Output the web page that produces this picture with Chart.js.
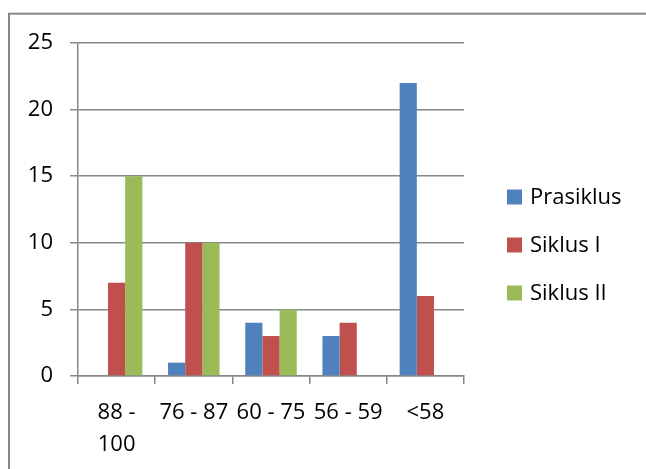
<!DOCTYPE html>
<html>
<head>
<meta charset="utf-8">
<script src="https://cdn.jsdelivr.net/npm/chart.js@4"></script>
<style>
  html, body { margin: 0; padding: 0; background: #fff; }
  #wrap { width: 646px; height: 469px; position: relative; }
</style>
</head>
<body>
<div id="wrap"><canvas id="c" width="646" height="469"></canvas></div>
<script>
// Score ranges and number of students per cycle
const categories = [["88 -", "100"], "76 - 87", "60 - 75", "56 - 59", "<58"];
const seriesNames = ["Prasiklus", "Siklus I", "Siklus II"];
const prasiklus = [0, 1, 4, 3, 22];
const siklus1 = [7, 10, 3, 4, 6];
const siklus2 = [15, 10, 5, 0, 0];
const yTicks = [0, 5, 10, 15, 20, 25];
const seriesColors = ["#4F81BD", "#C0504D", "#9BBB59"];

const FONT = '"Open Sans", "Liberation Sans", sans-serif';
const LINE = "#878787";

// Thin grey frame around the whole chart
const framePlugin = {
  id: "frame",
  beforeDraw(chart) {
    const ctx = chart.ctx;
    ctx.save();
    ctx.strokeStyle = LINE;
    ctx.lineWidth = 2;
    ctx.strokeRect(9, 13.7, 700, 520);
    ctx.restore();
  }
};

// Legend on the right, one entry per dataset
const sideLegend = {
  id: "sideLegend",
  afterDraw(chart) {
    const ctx = chart.ctx;
    const area = chart.chartArea;
    const x = area.right + 43;
    const gap = 48;
    const mid = (area.top + area.bottom) / 2 + 35.5;
    ctx.save();
    ctx.font = "22px " + FONT;
    ctx.textBaseline = "middle";
    ctx.textAlign = "left";
    chart.data.datasets.forEach((ds, i) => {
      const cy = mid + (i - 1) * gap;
      ctx.fillStyle = ds.backgroundColor;
      ctx.fillRect(x, cy - 7.5, 15, 15);
      ctx.fillStyle = "#000";
      ctx.fillText(ds.label, x + 23, cy + 1);
    });
    ctx.restore();
  }
};

const seriesData = [prasiklus, siklus1, siklus2];

new Chart(document.getElementById("c"), {
  type: "bar",
  data: {
    labels: categories,
    datasets: seriesNames.map((name, i) => ({
      label: name,
      data: seriesData[i],
      backgroundColor: seriesColors[i],
      borderWidth: 0,
      categoryPercentage: 0.667,
      barPercentage: 1
    }))
  },
  options: {
    responsive: false,
    animation: false,
    devicePixelRatio: 1,
    layout: { padding: { left: 20, top: 43, right: 182, bottom: 0 } },
    plugins: {
      legend: { display: false },
      tooltip: { enabled: false }
    },
    scales: {
      x: {
        afterFit(scale) { scale.height = 93; },
        grid: {
          offset: true,
          drawOnChartArea: false,
          drawTicks: true,
          tickLength: 8,
          color: LINE,
          lineWidth: 1.5
        },
        border: { display: true, color: LINE, width: 1.5 },
        ticks: {
          color: "#000",
          padding: 13,
          maxRotation: 0,
          autoSkip: false,
          font: { family: FONT, size: 22, lineHeight: 1.45 }
        }
      },
      y: {
        min: 0,
        max: 25,
        afterFit(scale) { scale.width = 58; },
        afterBuildTicks(scale) { scale.ticks = yTicks.map(v => ({ value: v })); },
        grid: {
          drawTicks: true,
          tickLength: 8,
          color: LINE,
          lineWidth: 1.5
        },
        border: { display: true, color: LINE, width: 1.5 },
        ticks: {
          color: "#000",
          padding: 17,
          font: { family: FONT, size: 22 }
        }
      }
    }
  },
  plugins: [framePlugin, sideLegend]
});
</script>
</body>
</html>
